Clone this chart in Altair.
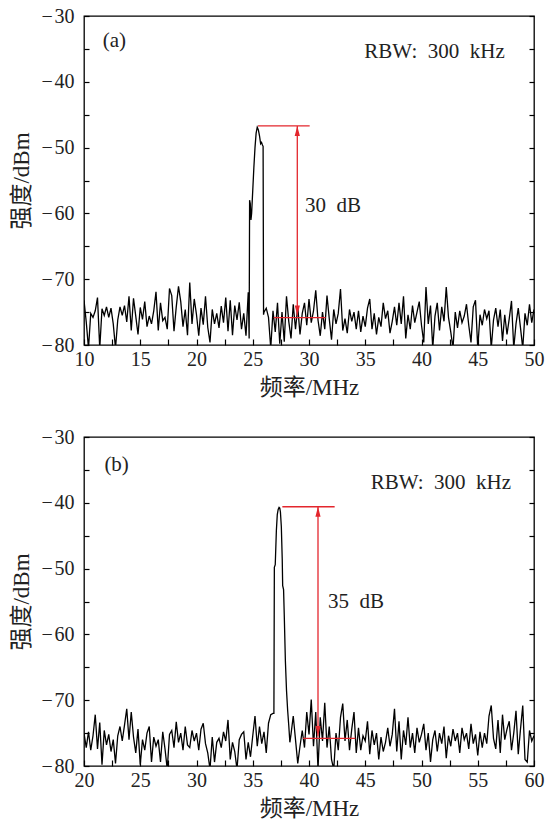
import altair as alt
import pandas as pd

FONT = "Liberation Serif, Noto Sans CJK SC"
RED = "#e3262d"

# ---------------- panel (a) data ----------------
noise_a1_start, step = 10.0, 0.2
noise_a1 = [-73.2, -76.5, -80.5, -75.2, -75.8, -74.8, -72.8, -80.5, -74.5, -75.5,
            -74.2, -75.8, -74.4, -76.8, -80.5, -76.2, -74.2, -75.5, -74.0, -76.5,
            -72.6, -77.8, -72.9, -75.6, -78.4, -74.3, -76.1, -73.4, -77.2, -75.6,
            -76.8, -74.8, -71.9, -77.8, -73.6, -76.3, -75.8, -77.6, -71.4, -72.5,
            -77.9, -74.2, -71.1, -73.4, -77.2, -74.6, -78.5, -70.5, -76.8, -73.0,
            -75.4, -78.6, -74.4, -76.9, -72.6, -77.3, -79.6, -74.6, -76.8, -75.2,
            -77.4, -74.1, -76.6, -72.8, -77.9, -73.2, -78.5, -74.0, -76.2, -73.5,
            -77.6, -75.2, -78.6, -72.0]
peak_a_f = [24.68, 24.72, 24.78, 24.84, 24.90, 25.00, 25.10, 25.20, 25.30, 25.40,
            25.50, 25.60, 25.70, 25.78, 25.86, 25.92, 25.96]
peak_a_p = [-79.0, -58.0, -58.5, -61.0, -60.0, -56.5, -53.0, -50.0, -47.8, -46.9,
            -47.3, -48.2, -49.4, -49.2, -49.6, -49.8, -75.4]
noise_a2_start = 26.0
noise_a2 = [-75.0, -74.4, -75.8, -80.5, -74.8, -78.0, -73.6, -79.8, -75.0, -79.5,
            -72.6, -76.4, -79.0, -73.8, -77.6, -74.2, -78.4, -75.2, -73.6, -77.0,
            -73.0, -76.6, -74.8, -71.7, -76.2, -78.6, -75.0, -77.6, -72.5, -76.0,
            -79.2, -74.6, -76.8, -75.2, -71.5, -77.8, -76.0, -78.2, -74.6, -76.4,
            -75.0, -77.6, -74.8, -78.0, -75.6, -77.2, -74.4, -73.0, -77.6, -75.2,
            -78.4, -75.8, -77.2, -73.6, -76.0, -74.8, -78.2, -76.4, -74.2, -77.0,
            -73.6, -76.8, -72.6, -79.0, -75.4, -77.6, -74.0, -76.6, -75.0, -73.4,
            -77.0, -79.6, -71.2, -76.8, -74.0, -80.5, -75.6, -73.6, -77.8, -74.2,
            -76.4, -71.2, -75.8, -78.0, -80.5, -75.0, -77.4, -74.8, -76.6, -75.6,
            -73.8, -77.0, -79.6, -74.2, -73.2, -80.5, -75.4, -77.0, -74.6, -76.0,
            -74.8, -80.5, -76.2, -74.4, -77.2, -74.6, -79.4, -75.4, -78.4, -76.0,
            -73.3, -80.5, -76.8, -74.4, -77.4, -80.5, -75.2, -77.0, -73.8, -76.6,
            -74.6]

# ---------------- panel (b) data ----------------
noise_b1_start = 20.0
noise_b1 = [-75.0, -77.2, -74.8, -77.6, -75.4, -72.2, -77.4, -73.4, -79.8, -74.6,
            -76.8, -75.2, -77.8, -76.0, -79.6, -75.4, -74.0, -76.2, -73.8, -71.3,
            -76.0, -71.8, -75.6, -78.0, -74.4, -79.8, -76.0, -77.6, -75.0, -74.0,
            -79.4, -75.6, -77.0, -76.0, -79.4, -74.8, -77.4, -80.5, -75.2, -74.6,
            -77.2, -73.3, -76.4, -75.0, -77.6, -74.0, -76.8, -77.2, -74.6, -76.2,
            -75.0, -77.6, -74.4, -73.5, -76.6, -78.0, -80.5, -75.6, -79.4, -76.4,
            -75.8, -77.2, -74.8, -76.2, -73.0, -79.0, -76.4, -77.8, -80.5, -76.0,
            -75.2, -74.8, -79.0, -76.4, -78.6, -75.4, -72.4, -77.0, -74.0, -76.6,
            -74.8, -78.0, -73.5, -72.2, -72.0]
peak_b_f = [36.88, 36.92, 37.00, 37.10, 37.18, 37.26, 37.34, 37.40, 37.46, 37.54,
            37.62, 37.66, 37.74, 37.80, 37.90, 38.00, 38.10, 38.20, 38.30]
peak_b_p = [-72.0, -49.8, -49.4, -44.2, -41.8, -41.0, -40.7, -40.8, -41.4, -43.6,
            -48.5, -52.6, -53.2, -57.0, -64.0, -68.5, -71.5, -73.8, -76.4]
noise_b2_start = 38.4
noise_b2 = [-75.2, -72.4, -76.0, -79.6, -77.0, -74.6, -77.2, -71.8, -75.2, -69.9,
            -77.0, -71.8, -80.5, -72.6, -76.2, -70.4, -77.2, -74.0, -79.0, -80.5,
            -75.0, -77.6, -72.6, -70.5, -76.2, -73.0, -77.6, -74.4, -71.8, -78.0,
            -74.2, -77.6, -75.4, -76.2, -73.2, -78.2, -74.6, -76.8, -75.0, -79.0,
            -75.6, -77.8, -76.4, -74.2, -77.0, -75.2, -71.3, -77.8, -73.2, -79.0,
            -74.6, -76.8, -72.6, -77.2, -75.0, -78.0, -74.2, -76.4, -75.2, -73.6,
            -77.6, -75.0, -79.4, -76.0, -74.6, -77.8, -75.0, -76.6, -74.0, -78.8,
            -75.4, -77.0, -74.4, -76.2, -75.0, -78.0, -74.2, -76.0, -75.0, -77.4,
            -73.6, -76.6, -75.2, -78.4, -74.8, -77.2, -75.0, -76.6, -72.4, -70.8,
            -75.8, -77.4, -73.0, -78.0, -72.2, -76.0, -74.4, -73.2, -77.6, -75.0,
            -71.6, -78.2, -74.4, -70.8, -79.0, -79.4, -74.6, -76.2, -75.4]

# annotation values (MHz, dBm)
ann_a = dict(top=-46.7, bot=-75.85, arrow_x=28.96, top_x=(25.47, 30.06), bot_x=(26.86, 31.48),
             lab="30\u2002dB", lab_xy=(29.64, -58.8), panel="(a)", panel_xy=(12.7, -33.8),
             rbw_xy=(47.4, -35.5), xdom=(10, 50))
ann_b = dict(top=-40.6, bot=-75.8, arrow_x=40.8, top_x=(37.63, 42.28), bot_x=(39.47, 44.12),
             lab="35\u2002dB", lab_xy=(41.69, -55.0), panel="(b)", panel_xy=(22.9, -34.2),
             rbw_xy=(57.96, -37.0), xdom=(20, 60))
RBW_TEXT = "RBW:\u2002300\u2002kHz"

Y_TICKS = [-80, -75, -70, -65, -60, -55, -50, -45, -40, -35, -30]


def series(n1_start, n1, pf, pp, n2_start, n2):
    f = [round(n1_start + step * i, 3) for i in range(len(n1))] + pf + \
        [round(n2_start + step * i, 3) for i in range(len(n2))]
    p = n1 + pp + n2
    return pd.DataFrame({"f": f, "p": p})


def panel(df, a):
    x0, x1 = a["xdom"]
    xticks = [x0 + 2.5 * i for i in range(int((x1 - x0) / 2.5) + 1)]
    xs = alt.Scale(domain=[x0, x1], nice=False, zero=False)
    ys = alt.Scale(domain=[-80, -30], nice=False, zero=False)
    x_axis = alt.Axis(
        values=xticks, labelExpr="datum.value % 5 == 0 ? datum.value : ''",
        title="频率/MHz", offset=-6, tickSize=6, domain=False, grid=False,
        labelPadding=4, titlePadding=7, labelFlush=False, labelOverlap=False)

    def X(field):
        return alt.X(field, scale=xs, axis=x_axis)

    def Y(field):
        return alt.Y(field, scale=ys, axis=None)

    line = alt.Chart(df).mark_line(color="black", strokeWidth=1.3, clip=True).encode(
        x=X("f:Q"),
        y=alt.Y("p:Q", scale=ys, axis=alt.Axis(
            values=Y_TICKS,
            labelExpr="datum.value % 10 == 0 ? '\u2212\u200a' + abs(datum.value) : ''",
            title="强度/dBm", offset=-5, tickSize=5, domain=False, grid=False,
            labelPadding=10, titlePadding=8, labelFlush=False, labelOverlap=False)),
    )

    segs = pd.DataFrame({
        "x": [a["top_x"][0], a["bot_x"][0], a["arrow_x"]],
        "x2": [a["top_x"][1], a["bot_x"][1], a["arrow_x"]],
        "y": [a["top"], a["bot"], a["top"]],
        "y2": [a["top"], a["bot"], a["bot"] + 0.3],
    })
    rules = alt.Chart(segs).mark_rule(color=RED, strokeWidth=1.3).encode(
        x=X("x:Q"), x2="x2:Q", y=Y("y:Q"), y2="y2:Q")

    heads = pd.DataFrame({"x": [a["arrow_x"], a["arrow_x"]],
                          "y": [a["top"], a["bot"] + 0.35],
                          "d": ["up", "down"]})
    arrows = alt.Chart(heads).mark_point(filled=True, color=RED, opacity=1, size=400).encode(
        x=X("x:Q"),
        y=alt.Y("y:Q", scale=ys, axis=alt.Axis(
            orient="right", values=Y_TICKS, labels=False, title=None, offset=-5,
            tickSize=5, domain=False, grid=False)),
        shape=alt.Shape("d:N", legend=None, scale=alt.Scale(
            domain=["up", "down"],
            range=["M0,0L-0.26,1L0.26,1Z", "M0,0L-0.26,-1L0.26,-1Z"])),
    )

    def text_layer(x, y, t, align):
        d = pd.DataFrame({"x": [x], "y": [y], "t": [t]})
        return alt.Chart(d).mark_text(
            font=FONT, fontSize=21, align=align, baseline="middle", color="#222").encode(
            x=X("x:Q"), y=Y("y:Q"), text="t:N")

    lab = text_layer(a["lab_xy"][0], a["lab_xy"][1], a["lab"], "left")
    pnl = text_layer(a["panel_xy"][0], a["panel_xy"][1], a["panel"], "center")
    rbw = text_layer(a["rbw_xy"][0], a["rbw_xy"][1], RBW_TEXT, "right")

    return alt.layer(line, rules, arrows, lab, pnl, rbw).resolve_axis(
        y="independent").properties(width=450, height=329)


df_a = series(noise_a1_start, noise_a1, peak_a_f, peak_a_p, noise_a2_start, noise_a2)
df_b = series(noise_b1_start, noise_b1, peak_b_f, peak_b_p, noise_b2_start, noise_b2)

chart = alt.vconcat(panel(df_a, ann_a), panel(df_b, ann_b), spacing=26).properties(
    padding={"left": 9, "top": 5, "right": 0, "bottom": 0},
    background="white",
).configure_view(stroke="black", strokeWidth=1.3).configure_axis(
    labelFont=FONT, titleFont=FONT, labelFontSize=20, titleFontSize=23,
    labelColor="#222", titleColor="#222", titleFontWeight="normal",
    tickColor="black", tickWidth=1.2,
)

chart.save("out.html", embed_options={"renderer": "svg", "actions": False})
